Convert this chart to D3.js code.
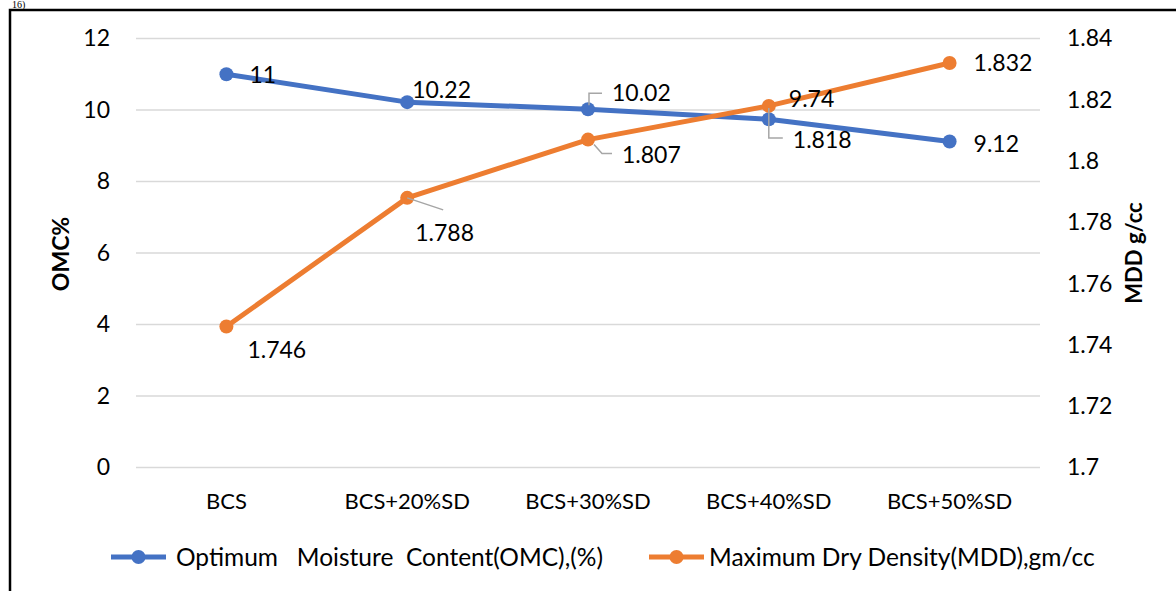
<!DOCTYPE html>
<html><head><meta charset="utf-8">
<script src="https://cdn.jsdelivr.net/npm/d3@7"></script>
<style>
html,body{margin:0;padding:0;background:#fff;}
svg{display:block;font-family:Lato,"Open Sans",sans-serif;}
</style></head>
<body><svg id="c" width="1176" height="591"></svg>
<script>
const categories = ["BCS","BCS+20%SD","BCS+30%SD","BCS+40%SD","BCS+50%SD"];
const omcValues = [11, 10.22, 10.02, 9.74, 9.12];
const mddValues = [1.746, 1.788, 1.807, 1.818, 1.832];
const omcTicks = [0, 2, 4, 6, 8, 10, 12];
const mddTicks = [1.7, 1.72, 1.74, 1.76, 1.78, 1.8, 1.82, 1.84];
const omcName = "Optimum   Moisture  Content(OMC),(%)";
const mddName = "Maximum Dry Density(MDD),gm/cc";
const leftTitle = "OMC%";
const rightTitle = "MDD g/cc";

// label placement (pixel offsets from the point)
const omcLabelOff = [[23,1],[5,-12],[24,-16],[20,-20],[24,2]];
const mddLabelOff = [[21,23],[8,35],[34,15],[24,34],[24,0]];

const blue = "#4472C4", orange = "#ED7D31", grid = "#D9D9D9", leader = "#A6A6A6";
const fs = 22, fsNum = 23;

const svg = d3.select("#c");
const L = 136, R = 1040, T = 38.5, B = 467.5;

const x = d3.scaleBand().domain(categories).range([L, R]);
const yL = d3.scaleLinear().domain([0, 12]).range([B, T]);
const yR = d3.scaleLinear().domain([1.7, 1.84]).range([B, T]);
const cx = c => x(c) + x.bandwidth() / 2;

// frame
svg.append("path").attr("d", `M10,600 L10,10 L1180,10`).attr("fill","none")
  .attr("stroke","#000").attr("stroke-width",2.5);
svg.append("text").attr("x",12).attr("y",8).attr("font-family","Liberation Serif, serif")
  .attr("font-size",10).text("16)");

// gridlines
svg.append("g").selectAll("line").data(omcTicks).join("line")
  .attr("x1", L).attr("x2", R)
  .attr("y1", d => yL(d)).attr("y2", d => yL(d))
  .attr("stroke", grid).attr("stroke-width", 1.5);

// left axis
const gL = svg.append("g").attr("transform", `translate(${L},0)`)
  .call(d3.axisLeft(yL).tickValues(omcTicks).tickSize(0).tickPadding(26).tickFormat(d3.format("d")));
gL.select(".domain").remove();
gL.selectAll("text").attr("font-size", fsNum).attr("font-family","Lato").attr("fill","#000");

// right axis
const gR = svg.append("g").attr("transform", `translate(${R},0)`)
  .call(d3.axisRight(yR).tickValues(mddTicks).tickSize(0).tickPadding(27).tickFormat(d => +d.toFixed(2)));
gR.select(".domain").remove();
gR.selectAll("text").attr("font-size", fsNum).attr("font-family","Lato").attr("fill","#000");

// bottom axis
const gB = svg.append("g").attr("transform", `translate(0,${B})`)
  .call(d3.axisBottom(x).tickSize(0).tickPadding(26));
gB.select(".domain").remove();
gB.selectAll("text").attr("font-size", fs).attr("font-family","Lato").attr("fill","#000");

// axis titles
svg.append("text").attr("transform", `translate(61,254) rotate(-90)`)
  .attr("text-anchor","middle").attr("dy","0.35em").attr("font-weight","bold")
  .attr("font-size", 23).text(leftTitle);
svg.append("text").attr("transform", `translate(1134,253) rotate(-90)`)
  .attr("text-anchor","middle").attr("dy","0.35em").attr("font-weight","bold")
  .attr("font-size", 22).text(rightTitle);

// lines
const lineL = d3.line().x((d,i) => cx(categories[i])).y(d => yL(d));
const lineR = d3.line().x((d,i) => cx(categories[i])).y(d => yR(d));
svg.append("path").datum(omcValues).attr("d", lineL).attr("fill","none")
  .attr("stroke", blue).attr("stroke-width", 5).attr("stroke-linejoin","round");
svg.append("g").selectAll("circle").data(omcValues).join("circle")
  .attr("cx",(d,i)=>cx(categories[i])).attr("cy",d=>yL(d)).attr("r",7).attr("fill",blue);

svg.append("path").datum(mddValues).attr("d", lineR).attr("fill","none")
  .attr("stroke", orange).attr("stroke-width", 5).attr("stroke-linejoin","round");
svg.append("g").selectAll("circle").data(mddValues).join("circle")
  .attr("cx",(d,i)=>cx(categories[i])).attr("cy",d=>yR(d)).attr("r",7).attr("fill",orange);

// leader lines
function leaderPath(px, py, pts) {
  return "M" + [[px,py]].concat(pts).map(p => p.join(",")).join("L");
}
const ldr = svg.append("g").attr("fill","none").attr("stroke",leader).attr("stroke-width",1.5);
{
  const px = cx(categories[2]), py = yL(omcValues[2]);
  ldr.append("path").attr("d", leaderPath(px+1, py-4, [[px+1, py-16],[px+14, py-16]]));
}
{
  const px = cx(categories[1]), py = yR(mddValues[1]);
  ldr.append("path").attr("d", leaderPath(px, py, [[px+36, py+12]]));
}
{
  const px = cx(categories[2]), py = yR(mddValues[2]);
  ldr.append("path").attr("d", leaderPath(px+6, py+5, [[px+14, py+14],[px+24, py+14]]));
}
{
  const px = cx(categories[3]), py = yR(mddValues[3]);
  ldr.append("path").attr("d", leaderPath(px, py+2, [[px, py+32],[px+14, py+32]]));
}

// data labels
svg.append("g").selectAll("text").data(omcValues).join("text")
  .attr("x",(d,i)=>cx(categories[i]) + omcLabelOff[i][0])
  .attr("y",(d,i)=>yL(d) + omcLabelOff[i][1])
  .attr("dy","0.35em").attr("font-size", fsNum).attr("fill","#000").text(d => d);
svg.append("g").selectAll("text").data(mddValues).join("text")
  .attr("x",(d,i)=>cx(categories[i]) + mddLabelOff[i][0])
  .attr("y",(d,i)=>yR(d) + mddLabelOff[i][1])
  .attr("dy","0.35em").attr("font-size", fsNum).attr("fill","#000").text(d => d);

// legend
const lg = svg.append("g");
[[omcName, blue, 111, 176],[mddName, orange, 649, 709]].forEach(([name,col,x0,tx]) => {
  lg.append("line").attr("x1",x0).attr("x2",x0+55).attr("y1",557).attr("y2",557)
    .attr("stroke",col).attr("stroke-width",5);
  lg.append("circle").attr("cx",x0+27.5).attr("cy",557).attr("r",7).attr("fill",col);
  lg.append("text").attr("x",tx).attr("y",557).attr("dy","0.35em").attr("font-size",24.5)
    .attr("fill","#000").style("white-space","pre").text(name);
});
</script></body></html>
